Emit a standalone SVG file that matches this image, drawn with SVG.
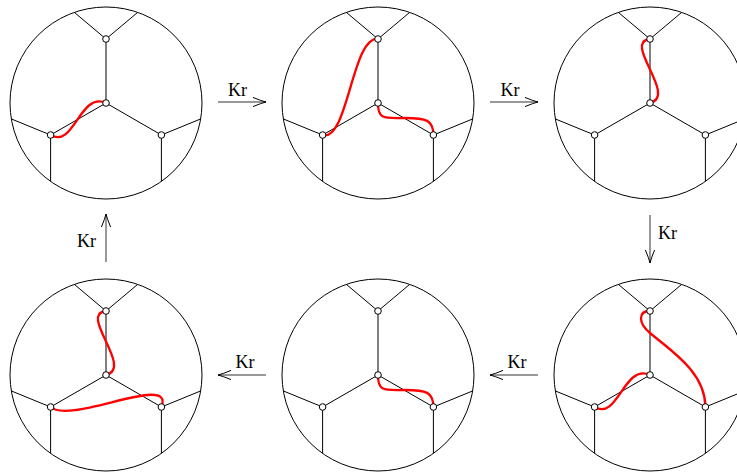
<svg xmlns="http://www.w3.org/2000/svg" xmlns:xlink="http://www.w3.org/1999/xlink" width="737" height="472" viewBox="0 0 737 472">
<style>
.ln{fill:none;stroke:#000;stroke-width:1}
.rd{fill:none;stroke:#f00;stroke-width:2.3;stroke-linecap:round}
.vx{fill:#fff;stroke:#000;stroke-width:1}
.ar{fill:none;stroke:#333;stroke-width:1}
.lb{font-family:"Liberation Serif","DejaVu Serif",serif;font-size:18px;fill:#000}
</style>
<defs>
<marker id="head" markerUnits="userSpaceOnUse" markerWidth="18" markerHeight="16" viewBox="-16 -8 18 16" refX="0" refY="0" orient="auto">
<path d="M-13,-4.6 Q-5,-1.2 0,0 Q-5,1.2 -13,4.6" fill="none" stroke="#000" stroke-width="1"/>
</marker>
<g id="frame">
<circle cx="0" cy="0" r="96" class="ln"/>
<path class="ln" d="M0,0 L0,-64 M0,0 L-55.4,32 M0,0 L55.4,32 M-31.5,-90.5 L0,-64 L31.5,-90.5 M-94.5,16 L-55.4,32 L-55.4,78.4 M94.5,16 L55.4,32 L55.4,78.4"/>
</g>
<g id="verts">
<circle cx="0" cy="0" r="3.3" class="vx"/>
<circle cx="0" cy="-64" r="3.3" class="vx"/>
<circle cx="-55.4" cy="32" r="3.3" class="vx"/>
<circle cx="55.4" cy="32" r="3.3" class="vx"/>
</g>
</defs>
<g id="node1" transform="translate(106,103)">
<use xlink:href="#frame"/>
<path class="rd" d="M-55.4,32 C-32,46 -26,-12 0,0"/>
<use xlink:href="#verts"/>
</g>
<g id="node2" transform="translate(378,103)">
<use xlink:href="#frame"/>
<path class="rd" d="M-55.4,32 C-30,39 -26,-67 0,-64"/>
<path class="rd" d="M0,0 C0,17 6,15 27,15 C48,15 55.4,17 55.4,32"/>
<use xlink:href="#verts"/>
</g>
<g id="node3" transform="translate(650,103)">
<use xlink:href="#frame"/>
<path class="rd" d="M0,-64 C-28,-61 28,-7 0,0"/>
<use xlink:href="#verts"/>
</g>
<g id="node4" transform="translate(106,375)">
<use xlink:href="#frame"/>
<path class="rd" d="M0,-64 C-28,-61 28,-7 0,0"/>
<path class="rd" d="M-55.4,32 C-36,50 69,-3 55.4,32"/>
<use xlink:href="#verts"/>
</g>
<g id="node5" transform="translate(378,375)">
<use xlink:href="#frame"/>
<path class="rd" d="M0,0 C0,17 6,15 27,15 C48,15 55.4,17 55.4,32"/>
<use xlink:href="#verts"/>
</g>
<g id="node6" transform="translate(650,375)">
<use xlink:href="#frame"/>
<path class="rd" d="M-55.4,32 C-32,46 -26,-12 0,0"/>
<path class="rd" d="M0,-64 C-12,-64 -12,-52 0,-42 C20,-25 55.4,-3 55.4,32"/>
<use xlink:href="#verts"/>
</g>
<g id="connectors">
<line class="ar" x1="218" y1="102" x2="266" y2="102" marker-end="url(#head)"/>
<text class="lb" x="237.5" y="96" text-anchor="middle">Kr</text>
<line class="ar" x1="490" y1="102" x2="538" y2="102" marker-end="url(#head)"/>
<text class="lb" x="510" y="96" text-anchor="middle">Kr</text>
<line class="ar" x1="650" y1="215" x2="650" y2="263" marker-end="url(#head)"/>
<text class="lb" x="658" y="239">Kr</text>
<line class="ar" x1="538" y1="375" x2="490" y2="375" marker-end="url(#head)"/>
<text class="lb" x="517" y="368" text-anchor="middle">Kr</text>
<line class="ar" x1="266" y1="375" x2="218" y2="375" marker-end="url(#head)"/>
<text class="lb" x="245" y="368" text-anchor="middle">Kr</text>
<line class="ar" x1="106" y1="262" x2="106" y2="214" marker-end="url(#head)"/>
<text class="lb" x="96" y="247" text-anchor="end">Kr</text>
</g>
</svg>
